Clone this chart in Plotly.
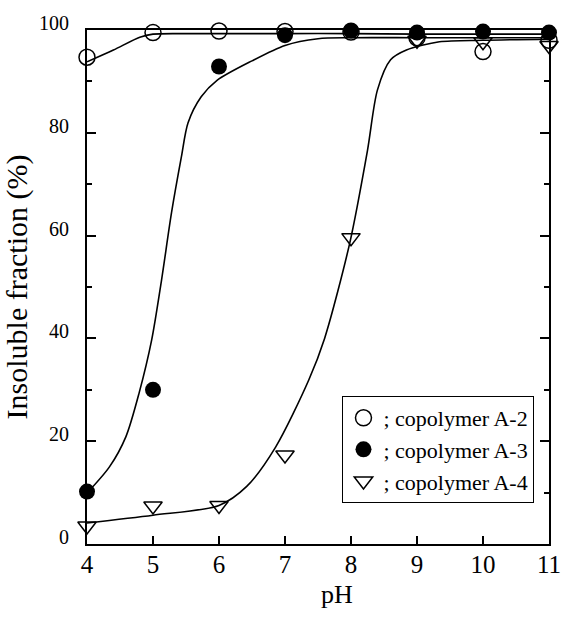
import plotly.graph_objects as go

# Measured insoluble fraction (%) vs pH
ph = [4, 5, 6, 7, 8, 9, 10, 11]
a2 = [94.7, 99.5, 99.8, 99.7, 99.6, 98.5, 95.8, 98.0]
a3 = [10.2, 30.0, 92.9, 99.0, 99.9, 99.5, 99.7, 99.5]
a4 = [3.5, 7.4, 7.5, 17.3, 59.6, 98.0, 97.7, 97.0]

# Hand-drawn guide curves through each series
a2_fit_ph = [4, 4.4, 4.8, 5, 5.5, 6, 7, 8, 9, 10, 11]
a2_fit = [93.8, 96.1, 98.6, 99.2, 99.3, 99.3, 99.3, 99.3, 99.2, 99.2, 99.2]
a3_fit_ph = [4, 4.34, 4.59, 4.79, 4.98, 5.13, 5.28, 5.43, 5.53, 5.73, 5.97,
             6.5, 7, 7.5, 8, 9, 10, 11]
a3_fit = [9.9, 15.0, 20.9, 29.4, 39.7, 51.4, 64.4, 75.3, 81.9, 87.0, 90.2,
          94.0, 97.0, 98.3, 98.5, 98.5, 98.5, 98.5]
a4_fit_ph = [4, 5, 6, 6.42, 6.86, 7.36, 7.6, 7.98, 8.25, 8.4, 8.6, 8.84,
             9.34, 10, 11]
a4_fit = [4.1, 5.6, 7.5, 11.2, 18.9, 31.9, 40.0, 58.5, 76.6, 88.3, 94.2,
          96.1, 97.7, 98.0, 98.2]

names = ["; copolymer A-2", "; copolymer A-3", "; copolymer A-4"]
SERIF = "Liberation Serif"

fig = go.Figure()

for xs, ys in [(a2_fit_ph, a2_fit), (a3_fit_ph, a3_fit), (a4_fit_ph, a4_fit)]:
    fig.add_trace(go.Scatter(
        x=xs, y=ys, mode="lines", showlegend=False, hoverinfo="skip",
        line=dict(color="black", width=1.6, shape="spline", smoothing=0.8),
    ))

markers = [
    dict(symbol="circle-open", size=16, color="black", line=dict(width=1.5, color="black")),
    dict(symbol="circle", size=16, color="black", line=dict(width=0)),
    dict(symbol="triangle-down-open", size=16, color="black", line=dict(width=1.5, color="black")),
]
for ys, name, mk in zip([a2, a3, a4], names, markers):
    fig.add_trace(go.Scatter(
        x=ph, y=ys, mode="markers", name=name, marker=mk, cliponaxis=False,
    ))

fig.update_layout(
    width=573, height=618,
    margin=dict(l=87, r=14, t=30, b=74),
    paper_bgcolor="white", plot_bgcolor="white",
    font=dict(family=SERIF, color="black"),
    showlegend=True,
    legend=dict(
        x=0.553, y=0.288, xanchor="left", yanchor="top",
        bgcolor="white", bordercolor="black", borderwidth=1,
        font=dict(family=SERIF, size=22, color="black"),
        itemwidth=30, tracegroupgap=0,
    ),
    xaxis=dict(
        range=[4, 11], tickmode="array", tickvals=ph,
        ticks="inside", ticklen=8, tickwidth=1.5, tickcolor="black",
        showline=True, linecolor="black", linewidth=2, mirror=True,
        showgrid=False, zeroline=False,
        tickfont=dict(family=SERIF, size=25, color="black"),
        ticklabelstandoff=-3,
    ),
    yaxis=dict(
        range=[0, 100], tick0=0, dtick=20,
        ticks="inside", ticklen=9, tickwidth=1.5, tickcolor="black",
        minor=dict(ticks="inside", ticklen=5, tickwidth=1.5, tickcolor="black",
                   dtick=10, tick0=0, showgrid=False),
        showline=True, linecolor="black", linewidth=2, mirror="ticks",
        showgrid=False, zeroline=False,
        tickfont=dict(family=SERIF, size=20, color="black"),
        ticklabelstandoff=12, ticklabelshift=-7,
        title=dict(text="Insoluble fraction (%)", standoff=6,
                   font=dict(family=SERIF, size=30, color="black")),
    ),
)

fig.add_annotation(
    text="pH", xref="paper", yref="paper", x=0.542, y=-0.098,
    xanchor="center", yanchor="middle", showarrow=False,
    font=dict(family=SERIF, size=26, color="black"),
)

fig.write_html("out.html")
